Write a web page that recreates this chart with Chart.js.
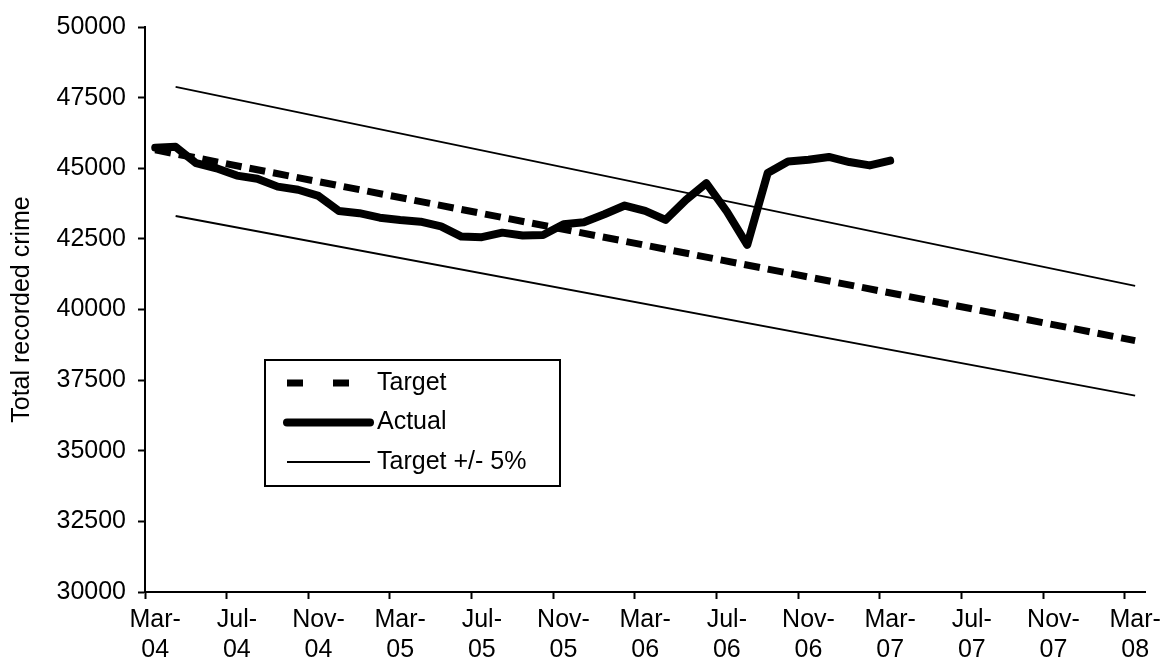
<!DOCTYPE html>
<html>
<head>
<meta charset="utf-8">
<script src="https://cdn.jsdelivr.net/npm/chart.js@4/dist/chart.umd.min.js"></script>
<style>
  body { margin: 0; background: #fff; }
  #wrap { width: 1167px; height: 671px; }
</style>
</head>
<body>
<div id="wrap"><canvas id="crimeChart" width="1167" height="671"></canvas></div>
<script>
// months on the x axis, Mar-04 .. Mar-08
const categories = [
  'Mar-04','Apr-04','May-04','Jun-04','Jul-04','Aug-04','Sep-04','Oct-04','Nov-04','Dec-04',
  'Jan-05','Feb-05','Mar-05','Apr-05','May-05','Jun-05','Jul-05','Aug-05','Sep-05','Oct-05','Nov-05','Dec-05',
  'Jan-06','Feb-06','Mar-06','Apr-06','May-06','Jun-06','Jul-06','Aug-06','Sep-06','Oct-06','Nov-06','Dec-06',
  'Jan-07','Feb-07','Mar-07','Apr-07','May-07','Jun-07','Jul-07','Aug-07','Sep-07','Oct-07','Nov-07','Dec-07',
  'Jan-08','Feb-08','Mar-08'
];

// actual recorded crime, monthly from Mar-04 to Mar-07
const actualValues = [
  45730, 45760, 45180, 45000, 44740, 44630, 44350, 44240, 44020, 43490,
  43410, 43250, 43170, 43110, 42940, 42580, 42560, 42720, 42620, 42640,
  43020, 43090, 43370, 43680, 43490, 43170, 43880, 44470, 43470, 42290,
  44830, 45240, 45300, 45400, 45220, 45100, 45270
];

// straight target lines, given by their end points
const targetDates = ['Mar-04', 'Mar-08'];
const targetValues = [45650, 38900];
const bandDates = ['Apr-04', 'Mar-08'];
const upperValues = [47880, 40840];
const lowerValues = [43310, 36950];

const yTicks = { min: 30000, max: 50000, step: 2500 };

function points(dates, values) {
  return dates.map((d, i) => ({ x: d, y: values[i] }));
}

// legend drawn as a box inside the plot area
const boxLegend = {
  id: 'boxLegend',
  afterDatasetsDraw(chart, args, opts) {
    const ctx = chart.ctx;
    const area = chart.chartArea;
    const x = area.left + opts.left;
    const y = area.top + opts.top;
    ctx.save();
    ctx.fillStyle = '#fff';
    ctx.fillRect(x, y, opts.width, opts.height);
    ctx.lineWidth = 2;
    ctx.strokeStyle = '#000';
    ctx.strokeRect(x, y, opts.width, opts.height);

    const seen = [];
    let row = 0;
    chart.data.datasets.forEach(ds => {
      if (seen.includes(ds.label)) return;
      seen.push(ds.label);
      const ly = y + opts.firstRow + row * opts.rowGap;
      ctx.beginPath();
      ctx.strokeStyle = ds.borderColor;
      ctx.lineWidth = ds.borderWidth;
      ctx.lineCap = ds.borderCapStyle || 'butt';
      ctx.setLineDash(ds.borderDash ? opts.dash : []);
      ctx.moveTo(x + opts.lineFrom, ly);
      ctx.lineTo(x + opts.lineTo, ly);
      ctx.stroke();
      ctx.setLineDash([]);
      ctx.fillStyle = '#000';
      ctx.font = opts.font;
      ctx.textBaseline = 'middle';
      ctx.textAlign = 'left';
      ctx.fillText(ds.label, x + opts.textX, ly);
      row++;
    });
    ctx.restore();
  }
};

const fontFamily = '"Liberation Sans", Arial, sans-serif';
Chart.defaults.font.family = fontFamily;
Chart.defaults.color = '#000';

new Chart(document.getElementById('crimeChart'), {
  type: 'line',
  data: {
    labels: categories,
    datasets: [
      {
        label: 'Target',
        data: points(targetDates, targetValues),
        borderColor: '#000',
        borderWidth: 7,
        borderDash: [16, 8],
        pointRadius: 0,
        spanGaps: true,
        order: 1
      },
      {
        label: 'Actual',
        data: actualValues,
        borderColor: '#000',
        borderWidth: 8,
        borderCapStyle: 'round',
        borderJoinStyle: 'round',
        pointRadius: 0,
        order: 0
      },
      {
        label: 'Target +/- 5%',
        data: points(bandDates, upperValues),
        borderColor: '#000',
        borderWidth: 1.8,
        pointRadius: 0,
        spanGaps: true,
        order: 2
      },
      {
        label: 'Target +/- 5%',
        data: points(bandDates, lowerValues),
        borderColor: '#000',
        borderWidth: 1.8,
        pointRadius: 0,
        spanGaps: true,
        order: 3
      }
    ]
  },
  options: {
    responsive: false,
    animation: false,
    devicePixelRatio: 1,
    layout: { padding: { left: 0, right: 18, top: 27, bottom: 0 } },
    plugins: {
      legend: { display: false },
      tooltip: { enabled: false },
      boxLegend: {
        left: 120, top: 333, width: 295, height: 126,
        firstRow: 23, rowGap: 39.5,
        lineFrom: 22, lineTo: 105, textX: 112,
        dash: [16, 30],
        font: '25px ' + fontFamily
      }
    },
    scales: {
      x: {
        type: 'category',
        offset: true,
        grid: {
          offset: true,
          drawOnChartArea: false,
          tickLength: 7,
          tickWidth: 2,
          color: c => c.index % 4 === 0 ? '#000' : 'rgba(0,0,0,0)',
          tickColor: c => c.index % 4 === 0 ? '#000' : 'rgba(0,0,0,0)'
        },
        border: { color: '#000', width: 2 },
        ticks: {
          autoSkip: false,
          maxRotation: 0,
          minRotation: 0,
          padding: 6,
          font: { size: 25 },
          callback: function (value, index) {
            if (index % 4 !== 0) return '';
            const parts = this.getLabelForValue(value).split('-');
            return [parts[0] + '-', parts[1]];
          }
        },
        afterFit: s => { s.height = 79; }
      },
      y: {
        min: yTicks.min,
        max: yTicks.max,
        grid: {
          drawOnChartArea: false,
          tickLength: 7,
          tickWidth: 2,
          color: '#000'
        },
        border: { color: '#000', width: 2 },
        ticks: {
          stepSize: yTicks.step,
          padding: 12,
          font: { size: 25 },
          callback: v => String(v)
        },
        title: {
          display: true,
          text: 'Total recorded crime',
          font: { size: 25 },
          padding: { top: 7, bottom: 0 }
        },
        afterFit: s => { s.width = 145; }
      }
    }
  },
  plugins: [boxLegend]
});
</script>
</body>
</html>
